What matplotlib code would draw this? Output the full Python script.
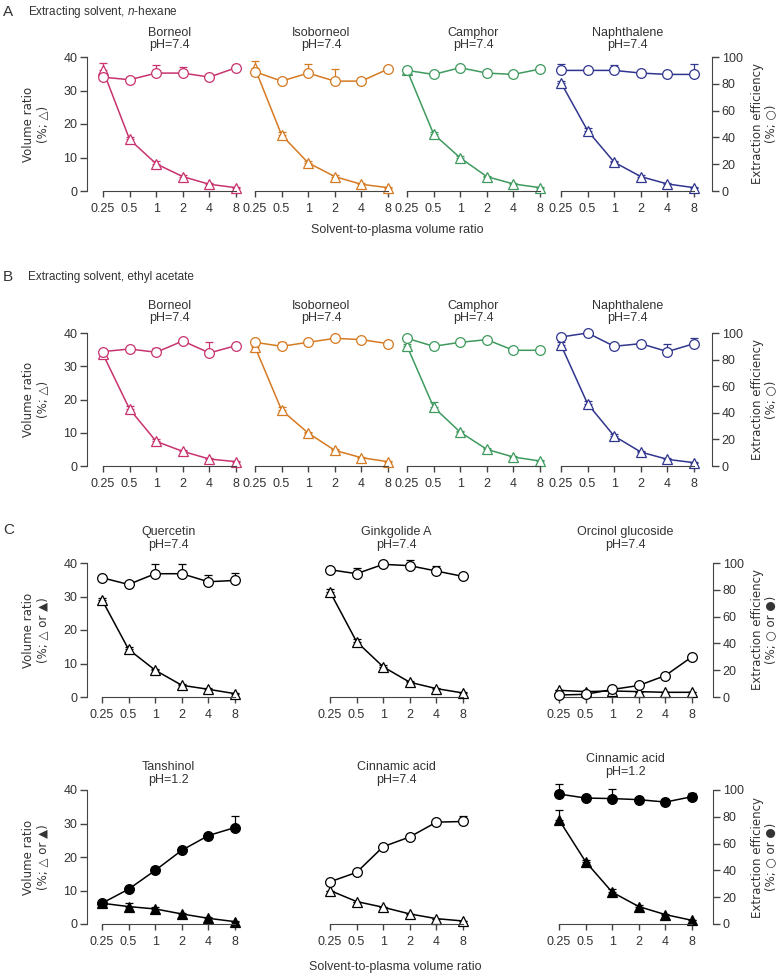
import numpy as np
import matplotlib
matplotlib.use('Agg')
from matplotlib import pyplot as plt

plt.rcParams['font.family'] = ['Liberation Sans', 'DejaVu Sans']
plt.rcParams['mathtext.fontset'] = 'custom'
plt.rcParams['mathtext.rm'] = 'Liberation Sans'
plt.rcParams['mathtext.it'] = 'Liberation Sans:italic'
plt.rcParams['font.size'] = 9

TXT = '#333333'
SP = '#444444'

# solvent-to-plasma volume ratio (x axis)
ratios = [0.25, 0.5, 1, 2, 4, 8]
ratio_labels = ['0.25', '0.5', '1', '2', '4', '8']

# panels A and B: compounds and colours
compounds_ab = ['Borneol', 'Isoborneol', 'Camphor', 'Naphthalene']
colors_ab = ['#c8336f', '#d67a22', '#3e9a5e', '#30358e']

# A: n-hexane - volume ratio (%, triangles) and extraction efficiency (%, circles)
hex_vol = [[36.0, 15.4, 8.1, 4.3, 2.0, 1.0],
           [36.6, 16.7, 8.4, 4.3, 2.0, 1.0],
           [36.1, 17.0, 9.9, 4.3, 2.1, 1.0],
           [32.3, 18.0, 8.6, 4.3, 2.1, 1.0]]
hex_vol_err = [[2.2, 0.8, 0.8, 0.4, 0.3, 0.2],
               [2.2, 0.8, 0.6, 0.4, 0.3, 0.2],
               [0.8, 0.5, 0.5, 0.3, 0.3, 0.2],
               [0.5, 0.8, 0.5, 0.4, 0.3, 0.2]]
hex_eff = [[85, 83, 88, 88, 85, 92],
           [89, 82, 88, 82, 82, 91],
           [90, 87, 92, 88, 87, 91],
           [90, 90, 90, 88, 87, 87]]
hex_eff_err = [[0, 0, 5.7, 4.5, 0, 2.3],
               [0, 0, 7.0, 9.0, 0, 0],
               [0, 0, 0, 0, 0, 0],
               [4.5, 0, 4.0, 0, 0, 8.0]]

# B: ethyl acetate
eta_vol = [[33.6, 17.1, 7.4, 4.4, 2.1, 1.3],
           [35.8, 16.8, 9.9, 4.7, 2.5, 1.3],
           [36.1, 17.7, 10.2, 5.0, 2.7, 1.5],
           [36.4, 18.7, 9.0, 4.2, 2.0, 1.0]]
eta_vol_err = [[0.5, 1.0, 0.7, 0.4, 0.3, 0.2],
               [0.5, 0.8, 0.4, 0.3, 0.3, 0.2],
               [0.5, 1.5, 0.4, 0.3, 0.3, 0.2],
               [1.0, 0.8, 0.5, 0.4, 0.3, 0.3]]
eta_eff = [[86, 88, 85.5, 94, 85, 90.5],
           [93, 90, 93, 96, 95, 92],
           [96, 90, 93, 95, 87, 87],
           [97, 100, 90, 92, 86, 92]]
eta_eff_err = [[1.5, 2.5, 3.5, 0, 8.0, 1.0],
               [0, 3.0, 0, 0, 0, 0],
               [0, 0, 0, 0, 0, 0],
               [0, 0, 0, 0, 6.0, 4.0]]

# C: other compounds
c_titles = ['Quercetin\npH=7.4', 'Ginkgolide A\npH=7.4', 'Orcinol glucoside\npH=7.4',
            'Tanshinol\npH=1.2', 'Cinnamic acid\npH=7.4', 'Cinnamic acid\npH=1.2']
c_filled = [False, False, False, True, False, True]
c_vol = [[29.0, 14.2, 8.0, 3.5, 2.3, 1.0],
         [31.4, 16.5, 9.0, 4.4, 2.5, 1.2],
         [2.0, 1.6, 1.8, 1.6, 1.4, 1.4],
         [6.2, 5.2, 4.5, 3.0, 1.7, 0.7],
         [10.0, 6.7, 5.0, 3.0, 1.6, 0.9],
         [31.1, 18.6, 9.5, 5.2, 2.8, 1.1]]
c_vol_err = [[0.5, 0.8, 0.5, 0.4, 0.3, 0.3],
             [0.8, 0.8, 0.5, 0.4, 0.3, 0.2],
             [0, 0, 0, 0, 0, 0],
             [0.5, 1.2, 0.7, 0.4, 0.3, 0.2],
             [0, 0, 0, 0, 0, 0],
             [2.8, 0.6, 0.8, 0.5, 0.3, 0.2]]
c_eff = [[89, 84, 92, 92, 86, 87],
         [95, 92, 99, 98, 94, 90],
         [1.5, 2.0, 5.6, 8.6, 16, 30],
         [15.5, 26, 40, 55, 66, 72],
         [31.5, 38.5, 57.7, 65, 76, 76.5],
         [97, 94, 93.6, 92.8, 91, 95]]
c_eff_err = [[0, 0, 7.5, 7.0, 5.0, 5.5],
             [0, 4.0, 0, 4.5, 3.5, 0],
             [0, 0, 0, 0, 0, 0],
             [0, 0, 0, 0, 0, 8.5],
             [0, 0, 0, 0, 0, 4.0],
             [7.4, 1.0, 7.4, 1.5, 1.5, 2.8]]

W, H = 781, 976
SPAN = 133          # px between the 0.25 and 8 ticks
MPX = 9.0           # px of margin on each side of the tick span
M_OCT = MPX / (SPAN / 5)

fig = plt.figure(figsize=(W / 100, H / 100), dpi=100)


def add_panel(x0, ytop, ybot):
    return fig.add_axes([(x0 - MPX) / W, 1 - ybot / H, (SPAN + 2 * MPX) / W, (ybot - ytop) / H])


def draw(ax, vol, vol_err, eff, eff_err, color, filled, title, tpad,
         left_out=None, right_out=None):
    ax.set_xscale('log', base=2)
    ax.set_xlim(0.25 * 2 ** -M_OCT, 8 * 2 ** M_OCT)
    ax.set_ylim(0, 40)
    ax2 = ax.twinx()
    ax2.set_ylim(0, 100)
    fc = color if filled else 'white'
    for a, y, e, mk, ms in [(ax, vol, vol_err, '^', 7.5), (ax2, eff, eff_err, 'o', 7)]:
        eb = a.errorbar(ratios, y, yerr=[np.zeros(len(e)), e], color=color, lw=1.1,
                        marker=mk, ms=ms, mfc=fc, mec=color, mew=0.9,
                        capsize=3, elinewidth=0.9, capthick=0.9)
        for art in [eb[0], *eb[1], *eb[2]]:
            art.set_clip_on(False)

    for s in ['top', 'right']:
        ax.spines[s].set_visible(False)
    for s in ['top', 'left', 'bottom']:
        ax2.spines[s].set_visible(False)
    ax.spines['bottom'].set_bounds(0.25, 8)
    ax.spines['bottom'].set_color(SP)
    ax.set_xticks(ratios)
    ax.set_xticklabels(ratio_labels)
    ax.minorticks_off()
    ax.tick_params(axis='x', length=4.3, width=1, color=SP, labelcolor=TXT, pad=4)

    if left_out is None:
        ax.spines['left'].set_visible(False)
        ax.tick_params(axis='y', left=False, labelleft=False)
    else:
        ax.spines['left'].set_position(('outward', left_out))
        ax.spines['left'].set_bounds(0, 40)
        ax.spines['left'].set_color(SP)
        ax.set_yticks([0, 10, 20, 30, 40])
        ax.tick_params(axis='y', length=5, width=1, color=SP, labelcolor=TXT, pad=2)

    if right_out is None:
        ax2.spines['right'].set_visible(False)
        ax2.tick_params(axis='y', right=False, labelright=False)
    else:
        ax2.spines['right'].set_position(('outward', right_out))
        ax2.spines['right'].set_bounds(0, 100)
        ax2.spines['right'].set_color(SP)
        ax2.set_yticks([0, 20, 40, 60, 80, 100])
        ax2.tick_params(axis='y', length=5, width=1, color=SP, labelcolor=TXT, pad=2)

    ax.set_title(title, pad=tpad, linespacing=1.05, color=TXT, fontsize=9)


def ftext(x, y, s, **kw):
    kw.setdefault('color', TXT)
    fig.text(x / W, 1 - y / H, s, **kw)


SYM = ['DejaVu Sans']   # larger, clearer open/filled symbol glyphs

# ---- A and B rows ----
starts_ab = [103, 255, 407, 561]
rows_ab = [(57, 191, hex_vol, hex_vol_err, hex_eff, hex_eff_err, 6.2),
           (333, 466, eta_vol, eta_vol_err, eta_eff, eta_eff_err, 8.6)]
for ytop, ybot, vol, vol_err, eff, eff_err, tpad in rows_ab:
    for i, x0 in enumerate(starts_ab):
        ax = add_panel(x0, ytop, ybot)
        draw(ax, vol[i], vol_err[i], eff[i], eff_err[i], colors_ab[i], False,
             compounds_ab[i] + '\npH=7.4', tpad,
             left_out=(x0 - MPX - 87) * 0.72 if i == 0 else None,
             right_out=(712 - (x0 + SPAN + MPX)) * 0.72 if i == 3 else None)
    yc = (ytop + ybot) / 2
    ftext(36, yc, 'Volume ratio\n(%; △)', rotation=90, ha='center', va='center',
          linespacing=1.1, family=SYM, fontsize=8.5)
    ftext(764, yc, 'Extraction efficiency\n(%; ○)', rotation=90, ha='center', va='center',
          linespacing=1.1, family=SYM, fontsize=8.5)

ftext(3, 12, 'A', fontsize=11, va='center', ha='left')
ftext(28, 12, r'Extracting solvent, $\it{n}$-hexane', va='center', ha='left', fontsize=8.5)
ftext(397, 230, 'Solvent-to-plasma volume ratio', ha='center', va='center')
ftext(3, 277, 'B', fontsize=11, va='center', ha='left')
ftext(28, 277, 'Extracting solvent, ethyl acetate', va='center', ha='left', fontsize=8.5)

# ---- C rows ----
starts_c = [102, 330, 559]
rows_c = [(563, 697, [11.0, 11.0, 11.0]), (790, 924, [5.2, 5.2, 11.0])]
for r, (ytop, ybot, pads) in enumerate(rows_c):
    for j, x0 in enumerate(starts_c):
        k = r * 3 + j
        ax = add_panel(x0, ytop, ybot)
        draw(ax, c_vol[k], c_vol_err[k], c_eff[k], c_eff_err[k], 'black', c_filled[k],
             c_titles[k], pads[j],
             left_out=(x0 - MPX - 87) * 0.72 if j == 0 else None,
             right_out=(713 - (x0 + SPAN + MPX)) * 0.72 if j == 2 else None)
    yc = (ytop + ybot) / 2
    ftext(36, yc, 'Volume ratio\n(%; △ or ▲)', rotation=90, ha='center', va='center',
          linespacing=1.1, family=SYM, fontsize=8.5)
    ftext(764, yc, 'Extraction efficiency\n(%; ○ or ●)', rotation=90, ha='center', va='center',
          linespacing=1.1, family=SYM, fontsize=8.5)

ftext(3, 530, 'C', fontsize=11, va='center', ha='left')
ftext(395, 967, 'Solvent-to-plasma volume ratio', ha='center', va='center')

fig.savefig('out.png', dpi=100)
